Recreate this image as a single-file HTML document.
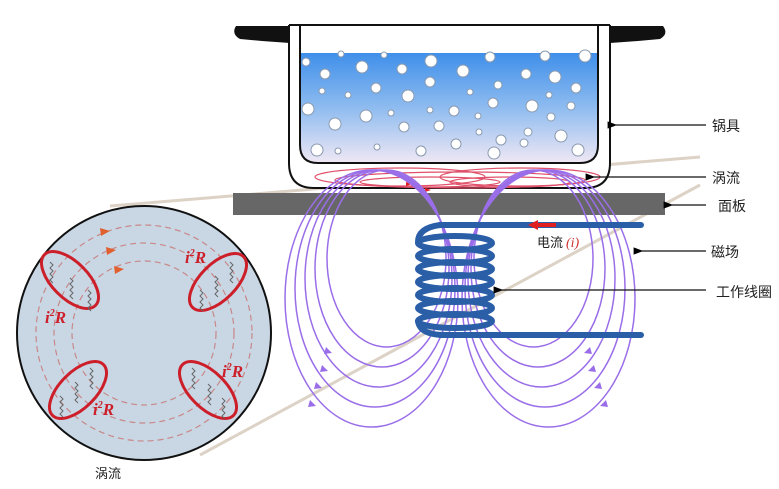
<!DOCTYPE html>
<html><head><meta charset="utf-8"><style>
html,body{margin:0;padding:0;background:#fff;}
svg{display:block;font-family:"Liberation Sans","Noto Sans CJK SC",sans-serif;}
</style></head><body>
<svg width="779" height="489" viewBox="0 0 779 489" xmlns="http://www.w3.org/2000/svg">
<defs>
<linearGradient id="w" x1="0" y1="0" x2="0" y2="1">
<stop offset="0" stop-color="#3f8fea"/><stop offset="0.5" stop-color="#8fbcf0"/><stop offset="1" stop-color="#f0e8f4"/>
</linearGradient>
<marker id="ah" markerWidth="8" markerHeight="8" refX="1" refY="4" orient="auto"><path d="M8,1 L0,4 L8,7 Z" fill="#000"/></marker>
</defs>
<line x1="110" y1="206" x2="700" y2="157" stroke="#ddd2c6" stroke-width="3"/>
<line x1="200" y1="455" x2="700" y2="185" stroke="#ddd2c6" stroke-width="3"/>
<path d="M236,26 L290,26 L290,43 L262,41 L240,39 Q231,34 236,26Z" fill="#111"/>
<path d="M663,26 L610,26 L610,43 L638,41 L660,39 Q669,34 663,26Z" fill="#111"/>
<path d="M289,25 L289,163 Q289,188 314,188 L585,188 Q610,188 610,163 L610,25" fill="#fff" stroke="#111" stroke-width="2"/>
<path d="M300,53 L598,53 L598,145 Q598,163 580,163 L318,163 Q300,163 300,145Z" fill="url(#w)"/>
<path d="M300,25 L300,145 Q300,163 318,163 L580,163 Q598,163 598,145 L598,25" fill="none" stroke="#111" stroke-width="2"/>
<line x1="289" y1="25" x2="610" y2="25" stroke="#111" stroke-width="2"/>
<g fill="#fff" stroke="#8a9ab0" stroke-width="1">
<circle cx="306" cy="62" r="4"/><circle cx="341" cy="54" r="3"/><circle cx="384" cy="55" r="3"/><circle cx="431" cy="61" r="6"/><circle cx="490" cy="57" r="5"/><circle cx="545" cy="56" r="5"/><circle cx="585" cy="56" r="6"/>
<circle cx="325" cy="74" r="5"/><circle cx="362" cy="67" r="6"/><circle cx="402" cy="69" r="5"/><circle cx="463" cy="71" r="6"/><circle cx="526" cy="74" r="5"/><circle cx="555" cy="77" r="6"/><circle cx="430" cy="82" r="5"/>
<circle cx="322" cy="91" r="3"/><circle cx="348" cy="95" r="3"/><circle cx="376" cy="88" r="5"/><circle cx="408" cy="96" r="6"/><circle cx="470" cy="92" r="3"/><circle cx="498" cy="85" r="4"/><circle cx="549" cy="95" r="3"/><circle cx="576" cy="88" r="5"/>
<circle cx="308" cy="109" r="6"/><circle cx="366" cy="116" r="6"/><circle cx="391" cy="113" r="3"/><circle cx="430" cy="110" r="3"/><circle cx="454" cy="111" r="5"/><circle cx="478" cy="116" r="3"/><circle cx="493" cy="103" r="5"/><circle cx="532" cy="106" r="6"/><circle cx="571" cy="106" r="4"/><circle cx="551" cy="117" r="4"/>
<circle cx="335" cy="124" r="6"/><circle cx="404" cy="127" r="5"/><circle cx="439" cy="126" r="5"/><circle cx="501" cy="140" r="5"/><circle cx="528" cy="132" r="4"/><circle cx="561" cy="136" r="6"/><circle cx="479" cy="132" r="3"/>
<circle cx="317" cy="150" r="6"/><circle cx="338" cy="151" r="3"/><circle cx="377" cy="147" r="3"/><circle cx="421" cy="151" r="5"/><circle cx="456" cy="144" r="5"/><circle cx="494" cy="153" r="6"/><circle cx="524" cy="143" r="4"/><circle cx="578" cy="150" r="6"/>
</g>
<g fill="none" stroke="#e0506a" stroke-width="1.2">
<ellipse cx="400" cy="177" rx="85" ry="9"/><ellipse cx="460" cy="180" rx="125" ry="8"/><ellipse cx="520" cy="177" rx="80" ry="9"/><ellipse cx="430" cy="182" rx="70" ry="5"/><ellipse cx="510" cy="182" rx="60" ry="5"/>
</g>
<path d="M406,182 l6,2 l-6,2z M415,185 l6,2 l-6,2z M425,188 l6,2 l-6,2z" fill="#e02020"/>
<rect x="233" y="193" width="432" height="22" fill="#676767"/>
<g fill="none" stroke="#9a6ee8" stroke-width="1.5">
<ellipse cx="371.5" cy="298.5" rx="86.5" ry="128.5"/><ellipse cx="375" cy="288.5" rx="80" ry="118.5"/><ellipse cx="378.5" cy="278.5" rx="73.5" ry="108.5"/><ellipse cx="382" cy="268.5" rx="67" ry="98.5"/><ellipse cx="386.5" cy="258.5" rx="59.5" ry="88.5"/>
<ellipse cx="548.5" cy="298.5" rx="86.5" ry="128.5"/><ellipse cx="545" cy="288.5" rx="80" ry="118.5"/><ellipse cx="541.5" cy="278.5" rx="73.5" ry="108.5"/><ellipse cx="538" cy="268.5" rx="67" ry="98.5"/><ellipse cx="533.5" cy="258.5" rx="59.5" ry="88.5"/>
</g>
<g fill="#9a6ee8">
<path d="M326,347 l6,6 l-8,1z M322,365 l6,6 l-8,1z M316,382 l6,6 l-8,1z M310,400 l6,6 l-8,1z"/>
<path d="M590,347 l-6,6 l8,1z M594,365 l-6,6 l8,1z M600,382 l-6,6 l8,1z M606,400 l-6,6 l8,1z"/>
</g>
<g fill="none" stroke="#2a5ea6" stroke-width="6" stroke-linecap="round">
<line x1="440" y1="225" x2="641" y2="225"/>
<line x1="440" y1="335" x2="641" y2="335"/>
<path d="M440,225 Q418,228 418,242"/>
<ellipse cx="455" cy="243" rx="37" ry="7"/><ellipse cx="455" cy="256" rx="37" ry="7"/><ellipse cx="455" cy="269" rx="37" ry="7"/><ellipse cx="455" cy="282" rx="37" ry="7"/><ellipse cx="455" cy="295" rx="37" ry="7"/><ellipse cx="455" cy="308" rx="37" ry="7"/><ellipse cx="455" cy="321" rx="37" ry="7"/>
<path d="M418,321 Q420,335 445,335"/>
</g>
<path d="M528,225 l10,-5 l0,3 l18,0 l0,4 l-18,0 l0,3z" fill="#e02020"/>
<text x="537" y="247" font-size="13" fill="#222">电流</text>
<text x="566" y="247" font-size="14" fill="#d03030" font-family="Liberation Serif,serif" font-style="italic">(i)</text>
<g stroke="#111" stroke-width="1.2">
<line x1="706" y1="125" x2="616" y2="125" marker-end="url(#ah)"/>
<line x1="706" y1="177" x2="594" y2="177" marker-end="url(#ah)"/>
<line x1="706" y1="205" x2="672" y2="205" marker-end="url(#ah)"/>
<line x1="706" y1="251" x2="642" y2="251" marker-end="url(#ah)"/>
<line x1="706" y1="290" x2="502" y2="290" marker-end="url(#ah)"/>
</g>
<g font-size="14" fill="#222">
<text x="712" y="131">锅具</text><text x="712" y="183">涡流</text><text x="718" y="211">面板</text><text x="711" y="257">磁场</text><text x="716" y="297">工作线圈</text>
</g>
<circle cx="144" cy="333" r="127" fill="#c9d7e5" stroke="#111" stroke-width="2"/>
<g fill="none" stroke="#c88888" stroke-width="1.2" stroke-dasharray="6,4">
<circle cx="144" cy="333" r="108"/><circle cx="144" cy="333" r="90"/><circle cx="144" cy="333" r="72"/>
</g>
<path d="M100,228 l10,3 l-9,5z M106,247 l10,3 l-9,5z M114,266 l10,3 l-9,5z" fill="#e06030"/>
<g fill="none" stroke="#cc1f2a" stroke-width="3">
<ellipse cx="70" cy="280" rx="36" ry="18" transform="rotate(45 70 280)"/>
<ellipse cx="218" cy="282" rx="36" ry="18" transform="rotate(-45 218 282)"/>
<ellipse cx="78" cy="390" rx="36" ry="18" transform="rotate(-45 78 390)"/>
<ellipse cx="208" cy="390" rx="36" ry="18" transform="rotate(45 208 390)"/>
</g>
<g fill="none" stroke="#666" stroke-width="1">
<path d="M50,262 l3,3 -3,3 3,3 -3,3 3,3 -3,3 3,3"/><path d="M70,278 l3,3 -3,3 3,3 -3,3 3,3 -3,3 3,3"/><path d="M88,290 l3,3 -3,3 3,3 -3,3 3,3 -3,3 3,3"/>
<path d="M230,262 l3,3 -3,3 3,3 -3,3 3,3 -3,3 3,3"/><path d="M215,276 l3,3 -3,3 3,3 -3,3 3,3 -3,3 3,3"/><path d="M200,290 l3,3 -3,3 3,3 -3,3 3,3 -3,3 3,3"/>
<path d="M90,368 l3,3 -3,3 3,3 -3,3 3,3 -3,3 3,3"/><path d="M75,382 l3,3 -3,3 3,3 -3,3 3,3 -3,3 3,3"/><path d="M60,396 l3,3 -3,3 3,3 -3,3 3,3 -3,3 3,3"/>
<path d="M192,368 l3,3 -3,3 3,3 -3,3 3,3 -3,3 3,3"/><path d="M208,384 l3,3 -3,3 3,3 -3,3 3,3 -3,3 3,3"/><path d="M222,398 l3,3 -3,3 3,3 -3,3 3,3 -3,3 3,3"/>
</g>
<g font-family="Liberation Serif,serif" font-weight="bold" font-style="italic" font-size="17" fill="#cc1f2a">
<text x="45" y="323">i<tspan font-size="10" dy="-7">2</tspan><tspan dy="7">R</tspan></text>
<text x="185" y="263">i<tspan font-size="10" dy="-7">2</tspan><tspan dy="7">R</tspan></text>
<text x="222" y="377">i<tspan font-size="10" dy="-7">2</tspan><tspan dy="7">R</tspan></text>
<text x="93" y="415">i<tspan font-size="10" dy="-7">2</tspan><tspan dy="7">R</tspan></text>
</g>
<text x="95" y="478" font-size="13" fill="#222">涡流</text>
</svg>
</body></html>
